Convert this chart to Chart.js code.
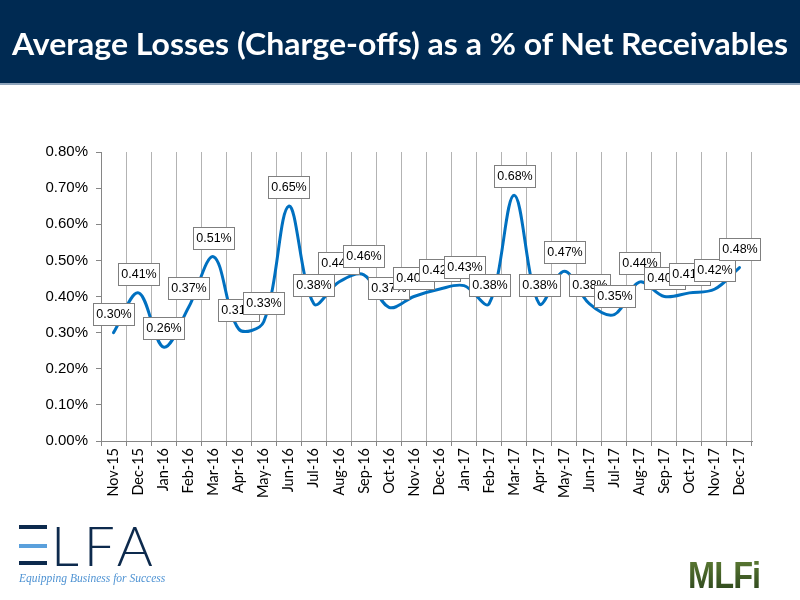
<!DOCTYPE html>
<html>
<head>
<meta charset="utf-8">
<script src="https://cdn.jsdelivr.net/npm/chart.js@4.4.0/dist/chart.umd.min.js"></script>
<style>
  body { margin: 0; width: 800px; height: 600px; position: relative; overflow: hidden; background: #fff; }
  #band { position: absolute; left: 0; top: 0; width: 800px; height: 83px; background: #002a52; border-bottom: 2px solid #8ea4bb; }
  #title { position: absolute; left: 0; top: 0; width: 800px; height: 83px; text-align: center;
           color: #fff; font: bold 31px Lato, "Open Sans", sans-serif; line-height: 86px; white-space: nowrap; }
  #title span { display: inline-block; transform-origin: center; }
  #chart { position: absolute; left: 0; top: 0; }
  .bar { position: absolute; left: 19px; width: 28px; height: 4px; background: #0d2a4d; }
  #lfa { position: absolute; left: 51px; top: 510px; font: 300 55px Lato, sans-serif; color: #0d2a4d; letter-spacing: 5px; line-height: 70px; }
  #tag { position: absolute; left: 19px; top: 571px; font: italic 12px "Liberation Serif", "DejaVu Serif", serif; color: #4f93d3;
         white-space: nowrap; transform-origin: left top; }
  #mlfi { position: absolute; left: 688px; top: 556px; font: bold 37px "Liberation Sans Narrow", "Liberation Sans", sans-serif;
          line-height: 40px; letter-spacing: -1px; background: linear-gradient(#607f35, #27401a); -webkit-background-clip: text;
          color: transparent; transform-origin: left top; white-space: nowrap; }
</style>
</head>
<body>
<div id="band"></div>
<div id="title"><span>Average Losses (Charge-offs) as a % of Net Receivables</span></div>

<div class="bar" style="top:525px"></div>
<div class="bar" style="top:544px; background:#5aa0dc"></div>
<div class="bar" style="top:561px"></div>
<div id="lfa">LFA</div>
<div id="tag">Equipping Business for Success</div>
<div id="mlfi">MLFi</div>

<canvas id="chart" width="800" height="600"></canvas>

<script>
// months on the x axis
const months = ['Nov-15', 'Dec-15', 'Jan-16', 'Feb-16', 'Mar-16', 'Apr-16', 'May-16', 'Jun-16', 'Jul-16',
  'Aug-16', 'Sep-16', 'Oct-16', 'Nov-16', 'Dec-16', 'Jan-17', 'Feb-17', 'Mar-17', 'Apr-17', 'May-17',
  'Jun-17', 'Jul-17', 'Aug-17', 'Sep-17', 'Oct-17', 'Nov-17', 'Dec-17'];

// average losses, % of net receivables
const lossRates = [0.30, 0.41, 0.26, 0.37, 0.51, 0.31, 0.33, 0.65, 0.38, 0.44, 0.46, 0.37, 0.40,
  0.42, 0.43, 0.38, 0.68, 0.38, 0.47, 0.38, 0.35, 0.44, 0.40, 0.41, 0.42, 0.48];

// y axis ticks
const yTicks = [0.0, 0.1, 0.2, 0.3, 0.4, 0.5, 0.6, 0.7, 0.8];

// squeeze text to the widths on the original slide
function fitWidth(el, w) {
  el.style.transform = 'scaleX(' + (w / el.offsetWidth) + ')';
}
fitWidth(document.querySelector('#title span'), 776);
fitWidth(document.getElementById('tag'), 146);
fitWidth(document.getElementById('mlfi'), 72);

// boxed value labels above each point
const boxLabels = {
  id: 'boxLabels',
  afterDatasetsDraw(chart) {
    const ctx = chart.ctx;
    const meta = chart.getDatasetMeta(0);
    ctx.save();
    ctx.font = '12.5px "Liberation Sans", Arial, sans-serif';
    ctx.textAlign = 'center';
    ctx.textBaseline = 'middle';
    meta.data.forEach((pt, i) => {
      const txt = lossRates[i].toFixed(2) + '%';
      const w = Math.round(ctx.measureText(txt).width) + 6;
      const h = 22;
      const x0 = Math.round(pt.x - w / 2) + 0.5;
      const y0 = Math.round(pt.y - 19 - h / 2) + 0.5;
      ctx.fillStyle = '#fff';
      ctx.fillRect(x0, y0, w, h);
      ctx.strokeStyle = '#7f7f7f';
      ctx.lineWidth = 1;
      ctx.strokeRect(x0, y0, w, h);
      ctx.fillStyle = '#000';
      ctx.fillText(txt, x0 + w / 2, y0 + h / 2 + 0.5);
    });
    ctx.restore();
  }
};

new Chart(document.getElementById('chart'), {
  type: 'line',
  data: {
    labels: months,
    datasets: [{
      data: lossRates,
      borderColor: '#0070c0',
      borderWidth: 3,
      borderCapStyle: 'round',
      tension: 0.35,
      pointRadius: 0,
      fill: false
    }]
  },
  options: {
    responsive: false,
    animation: false,
    devicePixelRatio: 1,
    layout: { padding: { top: 152, right: 48, left: 0, bottom: 0 } },
    plugins: { legend: { display: false }, tooltip: { enabled: false } },
    scales: {
      x: {
        offset: true,
        afterFit(s) { s.height = 159; },
        grid: { offset: true, color: '#b3b3b3', tickColor: '#868686', tickLength: 5 },
        border: { color: '#868686' },
        ticks: { minRotation: 90, maxRotation: 90, autoSkip: false, padding: 2, color: '#000',
                 font: { family: 'Lato', size: 14.5 } }
      },
      y: {
        min: 0,
        max: 0.8,
        afterFit(s) { s.width = 101; },
        afterBuildTicks(s) { s.ticks = yTicks.map(v => ({ value: v })); },
        grid: { drawOnChartArea: false, tickColor: '#868686', tickLength: 5 },
        border: { color: '#868686' },
        ticks: { padding: 8, color: '#000', font: { family: 'Liberation Sans', size: 15 },
                 callback: v => v.toFixed(2) + '%' }
      }
    }
  },
  plugins: [boxLabels]
});
</script>
</body>
</html>
